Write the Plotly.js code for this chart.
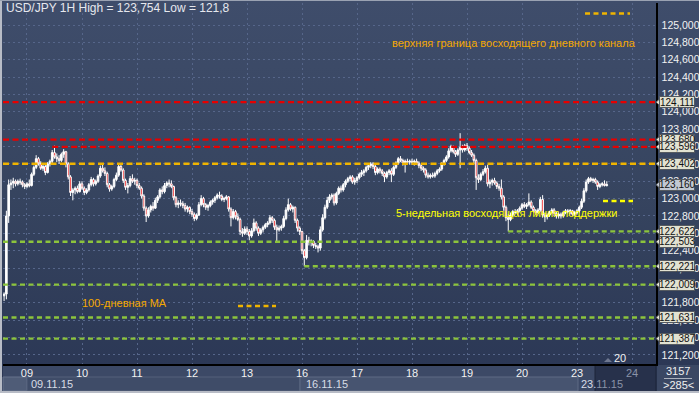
<!DOCTYPE html>
<html>
<head>
<meta charset="utf-8">
<script src="https://cdn.plot.ly/plotly-3.0.1.min.js"></script>
<style>
html,body{margin:0;padding:0;background:#2b3857;}
#chart{width:699px;height:393px;background:linear-gradient(to bottom,#3f4d6b 0%,#36445f 50%,#2a3654 100%);}
</style>
</head>
<body>
<div id="chart"></div>
<script>
// ---------------- DATA ----------------
// USD/JPY 1H, Fri 06.11.15 14:00 -> Mon 23.11.15 13:00
const sessionLabel = ['09','10','11','12','13','16','17','18','19','20','23','24'];
const firstSessionBars = 10;           // bars of Fri 06.11 before day 09
const barsPerDay = 24;
const weekLabel = {'09':'09.11.15','16':'16.11.15','23':'23.11.15'};

const open = [
 121.88,121.90,122.80,123.16,123.18,123.20,123.17,123.20,123.19,123.16,
 123.14,123.17,123.15,123.28,123.36,123.46,123.40,123.35,123.37,123.30,123.40,123.43,123.53,123.48,123.46,123.44,123.51,123.54,123.40,123.25,123.07,123.10,123.12,123.08,
 123.17,123.12,123.07,123.10,123.16,123.22,123.17,123.20,123.26,123.35,123.32,123.29,123.16,123.11,123.14,123.22,123.27,123.37,123.33,123.21,123.13,123.15,123.23,123.20,
 123.21,123.15,123.12,123.03,122.89,122.80,122.87,122.91,122.89,122.98,123.02,123.10,123.08,123.15,123.18,123.17,123.14,123.01,122.93,122.95,122.94,122.92,122.88,122.90,
 122.85,122.82,122.77,122.81,122.93,123.00,122.93,122.90,122.92,122.96,122.98,123.01,123.04,123.03,122.99,123.00,123.02,122.88,122.78,122.85,122.79,122.76,122.62,122.60,
 122.65,122.62,122.57,122.63,122.72,122.66,122.60,122.64,122.67,122.70,122.72,122.78,122.75,122.67,122.64,122.66,122.68,122.77,122.87,122.93,122.88,122.90,122.75,122.66,
 122.62,122.40,122.32,122.52,122.50,122.51,122.46,122.45,122.43,122.64,122.78,122.90,122.98,123.02,123.04,122.95,123.06,123.12,123.10,123.16,123.20,123.23,123.25,123.19,
 123.21,123.24,123.28,123.30,123.32,123.36,123.38,123.40,123.37,123.30,123.34,123.32,123.29,123.25,123.30,123.32,123.28,123.36,123.41,123.46,123.44,123.41,123.43,123.42,
 123.43,123.42,123.43,123.41,123.38,123.35,123.33,123.27,123.25,123.27,123.26,123.29,123.32,123.34,123.40,123.44,123.48,123.55,123.60,123.54,123.51,123.56,123.59,123.56,
 123.61,123.58,123.53,123.50,123.44,123.24,123.22,123.28,123.31,123.35,123.17,123.19,123.21,123.18,123.14,123.12,123.02,122.90,122.78,122.76,122.81,122.85,122.84,122.86,
 122.89,122.93,122.91,122.93,122.96,122.90,122.86,122.84,122.87,122.99,122.81,122.79,122.81,122.84,122.87,122.83,122.80,122.82,122.80,122.84,122.86,122.85,122.86,122.82,
 122.84,122.86,122.90,122.97,123.09,123.19,123.23,123.21,123.22,123.19,123.14,123.16,123.17,123.15
];
const high = [
 121.92,122.86,123.22,123.22,123.24,123.22,123.22,123.23,123.21,123.18,
 123.19,123.22,123.30,123.38,123.50,123.48,123.43,123.40,123.39,123.42,123.45,123.56,123.61,123.52,123.50,123.53,123.57,123.55,123.42,123.27,123.12,123.14,123.15,123.20,
 123.20,123.14,123.12,123.18,123.25,123.24,123.22,123.28,123.38,123.39,123.36,123.31,123.18,123.16,123.24,123.30,123.40,123.39,123.35,123.23,123.18,123.26,123.28,123.24,
 123.23,123.18,123.14,123.05,122.91,122.90,122.93,122.96,123.01,123.04,123.12,123.14,123.18,123.20,123.22,123.21,123.15,123.03,122.98,122.99,122.97,122.95,122.92,122.91,
 122.88,122.84,122.83,122.96,123.04,123.02,122.95,122.94,122.98,123.00,123.03,123.06,123.08,123.05,123.02,123.04,123.03,122.90,122.88,122.87,122.83,122.78,122.66,122.68,
 122.68,122.65,122.66,122.77,122.74,122.68,122.66,122.69,122.72,122.74,122.81,122.80,122.77,122.70,122.69,122.70,122.80,122.90,123.00,122.95,122.92,122.91,122.77,122.68,
 122.63,122.42,122.58,122.56,122.53,122.52,122.49,122.47,122.68,122.82,122.93,123.02,123.05,123.06,123.06,123.08,123.14,123.15,123.18,123.22,123.25,123.27,123.27,123.24,
 123.26,123.30,123.33,123.34,123.38,123.41,123.42,123.42,123.39,123.36,123.36,123.34,123.31,123.32,123.34,123.35,123.38,123.43,123.48,123.49,123.46,123.45,123.46,123.45,
 123.46,123.45,123.46,123.43,123.40,123.37,123.35,123.30,123.29,123.30,123.31,123.34,123.36,123.42,123.46,123.50,123.58,123.62,123.61,123.56,123.58,123.754,123.62,123.63,
 123.64,123.60,123.56,123.52,123.46,123.28,123.30,123.34,123.38,123.39,123.22,123.23,123.24,123.20,123.17,123.22,123.04,122.92,122.82,122.84,122.87,122.88,122.88,122.91,
 122.95,122.96,122.95,123.06,122.98,122.92,122.88,122.89,123.02,123.04,122.84,122.83,122.86,122.89,122.89,122.85,122.84,122.84,122.86,122.88,122.88,122.88,122.87,122.86,
 122.88,122.92,123.00,123.12,123.22,123.25,123.25,123.24,123.24,123.21,123.18,123.19,123.21,123.20
];
const low = [
 121.82,121.84,122.72,123.10,123.12,123.14,123.15,123.16,123.13,123.11,
 123.12,123.13,123.14,123.26,123.34,123.38,123.33,123.32,123.27,123.29,123.37,123.41,123.46,123.42,123.40,123.42,123.47,123.36,123.22,123.03,122.98,123.05,123.06,123.07,
 123.10,123.04,123.05,123.08,123.14,123.14,123.15,123.18,123.24,123.30,123.26,123.13,123.08,123.09,123.12,123.20,123.25,123.31,123.18,123.10,123.06,123.13,123.18,123.16,
 123.12,123.10,123.00,122.86,122.73,122.78,122.84,122.86,122.88,122.95,123.00,123.05,123.06,123.12,123.13,123.12,122.98,122.90,122.89,122.91,122.89,122.85,122.84,122.82,
 122.79,122.74,122.75,122.80,122.91,122.90,122.87,122.86,122.90,122.93,122.95,122.99,123.00,122.97,122.96,122.98,122.85,122.68,122.76,122.76,122.74,122.58,122.56,122.58,
 122.58,122.52,122.55,122.61,122.63,122.57,122.58,122.61,122.65,122.67,122.70,122.72,122.64,122.49,122.62,122.63,122.66,122.75,122.85,122.86,122.84,122.72,122.62,122.58,
 122.36,122.22,122.30,122.46,122.45,122.43,122.42,122.38,122.40,122.62,122.76,122.88,122.95,122.99,122.92,122.93,123.04,123.07,123.08,123.13,123.18,123.20,123.17,123.16,
 123.18,123.22,123.25,123.26,123.30,123.33,123.35,123.34,123.27,123.28,123.29,123.26,123.19,123.23,123.27,123.19,123.26,123.34,123.39,123.42,123.38,123.30,123.40,123.39,
 123.39,123.38,123.39,123.35,123.32,123.30,123.24,123.23,123.23,123.24,123.24,123.27,123.30,123.32,123.38,123.42,123.46,123.53,123.52,123.48,123.49,123.35,123.53,123.54,
 123.55,123.51,123.48,123.40,123.10,123.18,123.20,123.26,123.29,123.14,123.12,123.15,123.16,123.11,123.09,122.99,122.86,122.74,122.622,122.74,122.79,122.82,122.81,122.84,
 122.87,122.89,122.88,122.91,122.88,122.84,122.81,122.82,122.85,122.78,122.73,122.76,122.79,122.82,122.80,122.77,122.77,122.77,122.78,122.82,122.83,122.82,122.80,122.80,
 122.82,122.84,122.88,122.95,123.07,123.17,123.19,123.18,123.17,123.10,123.12,123.14,123.14,123.14
];
const close = [
 121.90,122.80,123.16,123.18,123.20,123.17,123.20,123.19,123.16,123.14,
 123.17,123.15,123.28,123.36,123.46,123.40,123.35,123.37,123.30,123.40,123.43,123.53,123.48,123.46,123.44,123.51,123.54,123.40,123.25,123.07,123.10,123.12,123.08,123.17,
 123.12,123.07,123.10,123.16,123.22,123.17,123.20,123.26,123.35,123.32,123.29,123.16,123.11,123.14,123.22,123.27,123.37,123.33,123.21,123.13,123.15,123.23,123.20,123.21,
 123.15,123.12,123.03,122.89,122.80,122.87,122.91,122.89,122.98,123.02,123.10,123.08,123.15,123.18,123.17,123.14,123.01,122.93,122.95,122.94,122.92,122.88,122.90,122.85,
 122.82,122.77,122.81,122.93,123.00,122.93,122.90,122.92,122.96,122.98,123.01,123.04,123.03,122.99,123.00,123.02,122.88,122.78,122.85,122.79,122.76,122.62,122.60,122.65,
 122.62,122.57,122.63,122.72,122.66,122.60,122.64,122.67,122.70,122.72,122.78,122.75,122.67,122.64,122.66,122.68,122.77,122.87,122.93,122.88,122.90,122.75,122.66,122.62,
 122.40,122.32,122.52,122.50,122.51,122.46,122.45,122.43,122.64,122.78,122.90,122.98,123.02,123.04,122.95,123.06,123.12,123.10,123.16,123.20,123.23,123.25,123.19,123.21,
 123.24,123.28,123.30,123.32,123.36,123.38,123.40,123.37,123.30,123.34,123.32,123.29,123.25,123.30,123.32,123.28,123.36,123.41,123.46,123.44,123.41,123.43,123.42,123.43,
 123.42,123.43,123.41,123.38,123.35,123.33,123.27,123.25,123.27,123.26,123.29,123.32,123.34,123.40,123.44,123.48,123.55,123.60,123.54,123.51,123.56,123.59,123.56,123.61,
 123.58,123.53,123.50,123.44,123.24,123.22,123.28,123.31,123.35,123.17,123.19,123.21,123.18,123.14,123.12,123.02,122.90,122.78,122.76,122.81,122.85,122.84,122.86,122.89,
 122.93,122.91,122.93,122.96,122.90,122.86,122.84,122.87,122.99,122.81,122.79,122.81,122.84,122.87,122.83,122.80,122.82,122.80,122.84,122.86,122.85,122.86,122.82,122.84,
 122.86,122.90,122.97,123.09,123.19,123.23,123.21,123.22,123.19,123.14,123.16,123.17,123.15,123.16
];

// horizontal levels: value, first bar (null = whole width)
const redLevels    = [124.111, 123.680, 123.596];
const redStart     = [null, null, 21];
const orangeLevels = [123.402];
const greenLevels  = [122.622, 122.503, 122.221, 122.009, 121.631, 121.387];
const greenStart   = [220, null, 131, null, null, null];
const lastPrice    = 123.160;

const priceTicks = [121.2,121.4,121.6,121.8,122.0,122.2,122.4,122.6,122.8,123.0,
                    123.2,123.4,123.6,123.8,124.0,124.2,124.4,124.6,124.8,125.0];

const titleText  = 'USD/JPY 1H High = 123,754 Low = 121,8';
const noteUpper  = 'верхняя граница восходящего дневного канала';
const noteMA     = '100-дневная МА';
const noteSupp   = '5-недельная восходящая линия поддержки';

// ---------------- LAYOUT HELPERS ----------------
const FN = "'Liberation Sans Narrow','Arial Narrow','Liberation Sans',Arial,sans-serif";
const FR = "'Liberation Sans',Arial,sans-serif";
const PL = 3, PR = 656, PT = 3, PB = 364;
const px = p => (p - PL) / (PR - PL);
const py = p => (PB - p) / (PB - PT);
const XR = [-0.47, 284.47];
const YR = [121.0945, 125.2535];
const yFrac = v => (v - YR[0]) / (YR[1] - YR[0]);

const xIdx = close.map((_, i) => i);
const dayPos = sessionLabel.map((_, k) => firstSessionBars + barsPerDay * k);
const dayText = sessionLabel.map((d, k) => k === sessionLabel.length - 1 ? '<span style="color:#8a93a8">' + d + '</span>' : d);

const trace = {
  type: 'candlestick', x: xIdx, open: open, high: high, low: low, close: close,
  increasing: {line: {color: '#ffffff', width: 1}, fillcolor: '#ffffff'},
  decreasing: {line: {color: '#ffffff', width: 1}, fillcolor: '#ee0000'},
  whiskerwidth: 0, hoverinfo: 'skip', showlegend: false
};

const shapes = [];
const ann = [];
function rectPx(x0, y0, x1, y1, fill, line, layer) {
  shapes.push({type: 'rect', xref: 'paper', yref: 'paper', x0: px(x0), x1: px(x1), y0: py(y0), y1: py(y1),
    fillcolor: fill, line: {color: line || fill, width: line ? 1 : 0}, layer: layer || 'below'});
}
function level(v, start, color, dash) {
  if (start === null) {
    shapes.push({type: 'line', xref: 'paper', yref: 'y', x0: 0, x1: 1, y0: v, y1: v,
      line: {color: color, width: 2.4, dash: dash}, layer: 'above'});
  } else {
    shapes.push({type: 'line', xref: 'x', yref: 'y', x0: start, x1: XR[1], y0: v, y1: v,
      line: {color: color, width: 2.4, dash: dash}, layer: 'above'});
  }
}
function tag(v, fill) {
  // pointer
  shapes.push({type: 'path', xref: 'paper', yref: 'paper', xsizemode: 'pixel', ysizemode: 'pixel',
    xanchor: px(656), yanchor: yFrac(v), path: 'M0,0 L6,5.5 L6,-5.5 Z',
    fillcolor: fill, line: {color: '#555a60', width: 1}, layer: 'above'});
  // label box (plain box; text is a separate label so it is never clipped)
  ann.push({xref: 'paper', yref: 'paper', x: px(659), y: yFrac(v), xanchor: 'left', yanchor: 'middle',
    text: ' ', showarrow: false, width: 32, height: 8,
    bgcolor: fill, bordercolor: '#555a60', borderwidth: 1, borderpad: 1,
    font: {family: FN, size: 10, color: '#111111'}});
  ann.push({xref: 'paper', yref: 'paper', x: px(677), y: yFrac(v), xanchor: 'center', yanchor: 'middle',
    text: v.toFixed(3).replace('.', ','), showarrow: false,
    font: {family: FN, size: 10, color: '#111111'}});
}

// bottom bar / frame
rectPx(PL, PB, PR, 393, '#3c4966');
rectPx(PL, 377, 27, 391, '#4f5c77', '#66728c');
rectPx(27, 377, 300, 391, '#3f4c68', '#55617b');
rectPx(300, 377, 578, 391, '#475470', '#5e6a84');
rectPx(595, 365, PR, 392, '#27314b', '#1c2439');
rectPx(657, 365, 699, 393, '#3a4763');
rectPx(0, 391, 699, 393, '#b8bcc6');
rectPx(0, 0, 2, 393, '#b8bcc6', null, 'above');
rectPx(0, 0, 699, 1, '#9aa2b2', null, 'above');

// levels
redLevels.forEach((v, k) => level(v, redStart[k], '#e60000', '6px,3.5px'));
orangeLevels.forEach(v => level(v, null, '#f0b400', '6px,3.5px'));
greenLevels.forEach((v, k) => level(v, greenStart[k], '#8cc43c', '5px,3.5px'));

// legend dashes next to the notes
function dashPx(x0, x1, y, color) {
  shapes.push({type: 'line', xref: 'paper', yref: 'paper', x0: px(x0), x1: px(x1), y0: py(y), y1: py(y),
    line: {color: color, width: 2.4, dash: '5px,3.5px'}, layer: 'above'});
}
dashPx(585, 630, 13.5, '#f0b400');
dashPx(238, 276, 306, '#f0b400');
dashPx(603, 633, 201, '#ffff00');

// price tags (drawn in this order so the lower ones overlap as in the terminal)
redLevels.forEach(v => tag(v, '#e2e2d2'));
orangeLevels.forEach(v => tag(v, '#e2e2d2'));
tag(lastPrice, '#c2c8d2');
greenLevels.forEach(v => tag(v, '#e2e2d2'));

// texts
ann.push({xref: 'paper', yref: 'paper', x: px(4), y: py(8.5), xanchor: 'left', yanchor: 'middle',
  text: titleText, showarrow: false, font: {family: FN, size: 12, color: '#e6e8ee'}});
ann.push({xref: 'paper', yref: 'paper', x: px(390), y: py(43), xanchor: 'left', yanchor: 'middle',
  text: noteUpper, showarrow: false, font: {family: FR, size: 11, color: '#f5a800'}});
ann.push({xref: 'paper', yref: 'paper', x: px(80), y: py(302.5), xanchor: 'left', yanchor: 'middle',
  text: noteMA, showarrow: false, font: {family: FR, size: 11, color: '#f5a800'}});
ann.push({xref: 'paper', yref: 'paper', x: px(394), y: py(213), xanchor: 'left', yanchor: 'middle',
  text: noteSupp, showarrow: false, font: {family: FR, size: 11, color: '#ffff00'}});

// week date labels
sessionLabel.forEach((d, k) => {
  if (weekLabel[d]) {
    const t = d === '23' ? '23.<span style="color:#8a93a8">11.15</span>' : weekLabel[d];
    ann.push({xref: 'x', yref: 'paper', x: dayPos[k], y: py(384), xanchor: 'left', yanchor: 'middle', xshift: 2,
      text: t, showarrow: false, font: {family: FN, size: 11, color: '#d8dce6'}});
  }
});
// right bottom counters
ann.push({xref: 'paper', yref: 'paper', x: px(678), y: py(371.5), xanchor: 'center', yanchor: 'middle',
  text: '3157', showarrow: false, font: {family: FN, size: 11, color: '#f0f0f0'}});
ann.push({xref: 'paper', yref: 'paper', x: px(678), y: py(384.5), xanchor: 'center', yanchor: 'middle',
  text: '>285<', showarrow: false, font: {family: FN, size: 11, color: '#f0f0f0'}});
shapes.push({type: 'line', xref: 'paper', yref: 'paper', x0: px(664), x1: px(692), y0: py(378.5), y1: py(378.5),
  line: {color: '#aab0bc', width: 1}, layer: 'above'});
// shift marker
ann.push({xref: 'paper', yref: 'paper', x: px(620), y: py(358), xanchor: 'center', yanchor: 'middle',
  text: '20', showarrow: false, font: {family: FN, size: 11, color: '#f0f0f0'}});
shapes.push({type: 'path', xref: 'paper', yref: 'paper', xsizemode: 'pixel', ysizemode: 'pixel',
  xanchor: px(608), yanchor: py(362), path: 'M-4,0 L4,0 L0,4 Z', fillcolor: '#6f7890', line: {width: 0}, layer: 'above'});

const layout = {
  width: 699, height: 393,
  margin: {l: PL, r: 699 - PR, t: PT, b: 393 - PB, pad: 0},
  paper_bgcolor: 'rgba(0,0,0,0)', plot_bgcolor: 'rgba(0,0,0,0)',
  separators: ', ', showlegend: false, hovermode: false, boxgap: 0,
  xaxis: {range: XR, tickmode: 'array', tickvals: dayPos, ticktext: dayText,
    showgrid: true, gridcolor: '#56668a', griddash: '2px,3px', gridwidth: 1,
    zeroline: false, showline: true, linecolor: '#000000', linewidth: 1.5, ticks: '',
    tickfont: {family: FN, size: 11, color: '#f2f2f2'}, ticklabelstandoff: -2,
    rangeslider: {visible: false}, fixedrange: true},
  yaxis: {range: YR, side: 'right', tickmode: 'array', tickvals: priceTicks, tickformat: '.3f',
    showgrid: true, gridcolor: '#56668a', griddash: '2px,3px', gridwidth: 1,
    zeroline: false, showline: true, linecolor: '#000000', linewidth: 1.5, ticks: '',
    tickfont: {family: FN, size: 10.5, color: '#f2f2f2'}, ticklabelstandoff: 2, fixedrange: true},
  shapes: shapes, annotations: ann
};

Plotly.newPlot('chart', [trace], layout, {staticPlot: true, displayModeBar: false});
</script>
</body>
</html>
